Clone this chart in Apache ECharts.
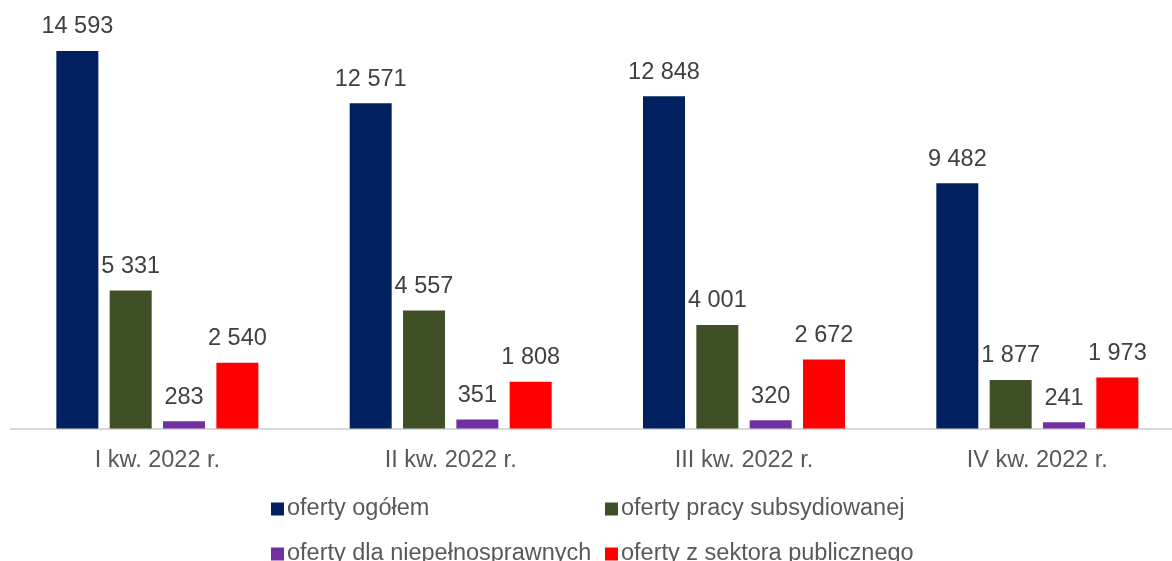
<!DOCTYPE html>
<html>
<head>
<meta charset="utf-8">
<script src="https://cdn.jsdelivr.net/npm/echarts@6/dist/echarts.min.js"></script>
<style>
html,body{margin:0;padding:0;background:#fff;overflow:hidden;width:1172px;height:561px;}
#chart{width:1184px;height:561px;}
</style>
</head>
<body>
<div id="chart"></div>
<script>
const categories = ['I kw. 2022 r.', 'II kw. 2022 r.', 'III kw. 2022 r.', 'IV kw. 2022 r.'];
const seriesNames = ['oferty ogółem', 'oferty pracy subsydiowanej', 'oferty dla niepełnosprawnych', 'oferty z sektora publicznego'];
const ofertyOgolem = [14593, 12571, 12848, 9482];
const ofertySubsydiowane = [5331, 4557, 4001, 1877];
const ofertyNiepelnosprawni = [283, 351, 320, 241];
const ofertyPubliczne = [2540, 1808, 2672, 1973];

const seriesValues = [ofertyOgolem, ofertySubsydiowane, ofertyNiepelnosprawni, ofertyPubliczne];
const colors = ['#002060', '#3F5026', '#7030A0', '#FF0000'];
const FONT = '"Liberation Sans", Arial, sans-serif';
const FS = 23.5;

function fmt(v) {
  return String(v).replace(/\B(?=(\d{3})+(?!\d))/g, ' ');
}

const legendPos = [
  {left: 271, top: 497},
  {left: 605, top: 497},
  {left: 271, top: 542},
  {left: 605, top: 542}
];

const chart = echarts.init(document.getElementById('chart'));
chart.setOption({
  animation: false,
  textStyle: {fontFamily: FONT},
  grid: {left: 10.7, top: 14.6, right: 0, bottom: 132.5, containLabel: false},
  legend: seriesNames.map((n, i) => ({
    data: [n],
    left: legendPos[i].left,
    top: legendPos[i].top,
    icon: 'rect',
    itemWidth: 13,
    itemHeight: 13,
    padding: 0,
    selectedMode: false,
    textStyle: {fontFamily: FONT, fontSize: FS, color: '#595959', padding: [0, 0, 0, -2]}
  })),
  xAxis: {
    type: 'category',
    data: categories,
    axisLine: {show: true, lineStyle: {color: '#D9D9D9', width: 2}},
    axisTick: {show: false},
    axisLabel: {fontFamily: FONT, fontSize: FS, color: '#595959', margin: 20}
  },
  yAxis: {
    type: 'value',
    min: 0,
    max: 16000,
    show: false,
    splitLine: {show: false}
  },
  series: seriesValues.map((vals, i) => ({
    name: seriesNames[i],
    type: 'bar',
    data: vals,
    barWidth: 42,
    barGap: '27%',
    itemStyle: {color: colors[i]},
    label: {
      show: true,
      position: 'top',
      distance: 12,
      fontFamily: FONT,
      fontSize: FS,
      color: '#404040',
      formatter: p => fmt(p.value)
    }
  }))
});
</script>
</body>
</html>
